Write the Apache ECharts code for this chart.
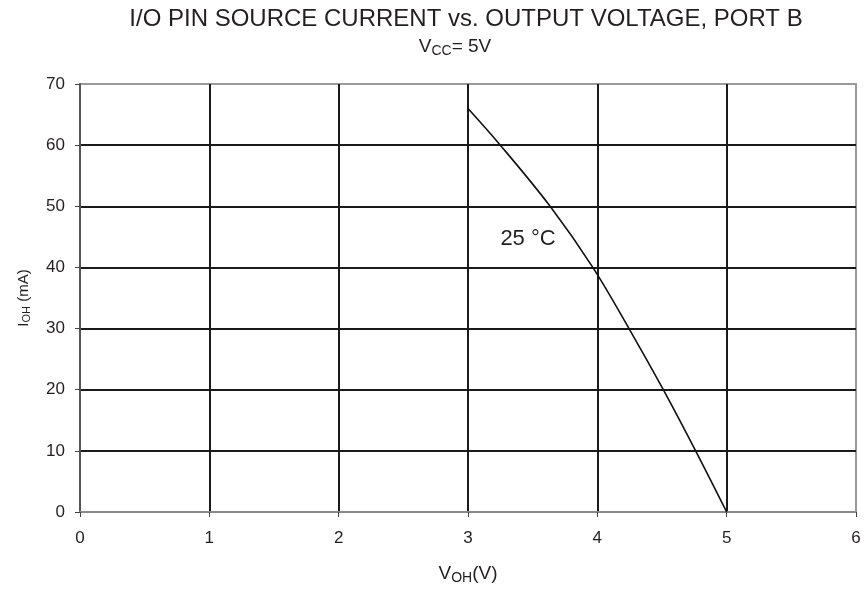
<!DOCTYPE html>
<html>
<head>
<meta charset="utf-8">
<script src="https://cdn.jsdelivr.net/npm/echarts@6/dist/echarts.min.js"></script>
<style>html,body{margin:0;padding:0;background:#fff}#c{width:866px;height:590px}</style>
</head>
<body>
<div id="c"></div>
<script>
// Data
const xTicks = [0, 1, 2, 3, 4, 5, 6];
const yTicks = [0, 10, 20, 30, 40, 50, 60, 70];
const vohValues = [3.0, 3.25, 3.635, 3.965, 4.245, 4.51, 4.76, 5.0];
const iohValues = [66, 60, 50, 40, 30, 20, 10, 0];
const curveLabel = '25 °C';
const curveLabelPos = [3.464, 44.7];

const points = vohValues.map((v, i) => [v, iohValues[i]]);
const FONT = 'Liberation Sans, Arial, sans-serif';
const TXT = '#231f20';

const chart = echarts.init(document.getElementById('c'));
chart.setOption({
  backgroundColor: '#fff',
  animation: false,
  title: [{
    text: 'I/O PIN SOURCE CURRENT vs. OUTPUT VOLTAGE, PORT B',
    left: 461, top: 2, textAlign: 'center',
    textStyle: { fontFamily: FONT, fontSize: 24, fontWeight: 'normal', color: TXT }
  }, {
    text: '{a|V}{s|CC}{a|= 5V}',
    left: 450, top: 31, textAlign: 'center',
    textStyle: {
      fontWeight: 'normal',
      rich: {
        a: { fontFamily: FONT, fontSize: 19, fontWeight: 'normal', color: TXT },
        s: { fontFamily: FONT, fontSize: 14, fontWeight: 'normal', color: TXT, padding: [8, 0, 0, 0] }
      }
    }
  }],
  grid: { left: 80, right: 10, top: 84, bottom: 76, show: true, borderColor: '#9a9a9a', borderWidth: 2 },
  xAxis: {
    type: 'value', min: xTicks[0], max: xTicks[xTicks.length - 1], interval: 1,
    name: '{a|V}{s|OH}{a|(V)}', nameLocation: 'middle', nameGap: 51,
    nameTextStyle: {
      rich: {
        a: { fontFamily: FONT, fontSize: 19, color: TXT },
        s: { fontFamily: FONT, fontSize: 14, color: TXT, padding: [8, 0, 0, 0] }
      }
    },
    axisLine: { lineStyle: { color: '#8a8a8a', width: 2 } },
    axisTick: { show: true, length: 5, lineStyle: { color: '#444', width: 1 } },
    axisLabel: { fontFamily: FONT, fontSize: 17, color: TXT, margin: 18 },
    splitLine: { show: true, showMinLine: false, showMaxLine: false, lineStyle: { color: '#1a1a1a', width: 2 } }
  },
  yAxis: {
    type: 'value', min: yTicks[0], max: yTicks[yTicks.length - 1], interval: 10,
    name: '{a|I}{s|OH}{a| (mA)}', nameLocation: 'middle', nameGap: 48, nameRotate: 90,
    nameTextStyle: {
      rich: {
        a: { fontFamily: FONT, fontSize: 15, color: TXT },
        s: { fontFamily: FONT, fontSize: 11, color: TXT, padding: [6, 0, 0, 0] }
      }
    },
    axisLine: { show: true, lineStyle: { color: '#555', width: 2 } },
    axisTick: { show: true, length: 5, lineStyle: { color: '#444', width: 1 } },
    axisLabel: { fontFamily: FONT, fontSize: 17, color: TXT, margin: 15 },
    splitLine: { show: true, showMinLine: false, showMaxLine: false, lineStyle: { color: '#1a1a1a', width: 2 } }
  },
  series: [{
    type: 'line',
    data: points,
    smooth: 0.35,
    symbol: 'none',
    lineStyle: { color: '#111', width: 1.6 },
    markPoint: {
      symbol: 'circle', symbolSize: 0,
      data: [{ coord: curveLabelPos }],
      label: { show: true, formatter: curveLabel, position: 'inside', fontFamily: FONT, fontSize: 22, color: TXT }
    }
  }]
});
</script>
</body>
</html>
